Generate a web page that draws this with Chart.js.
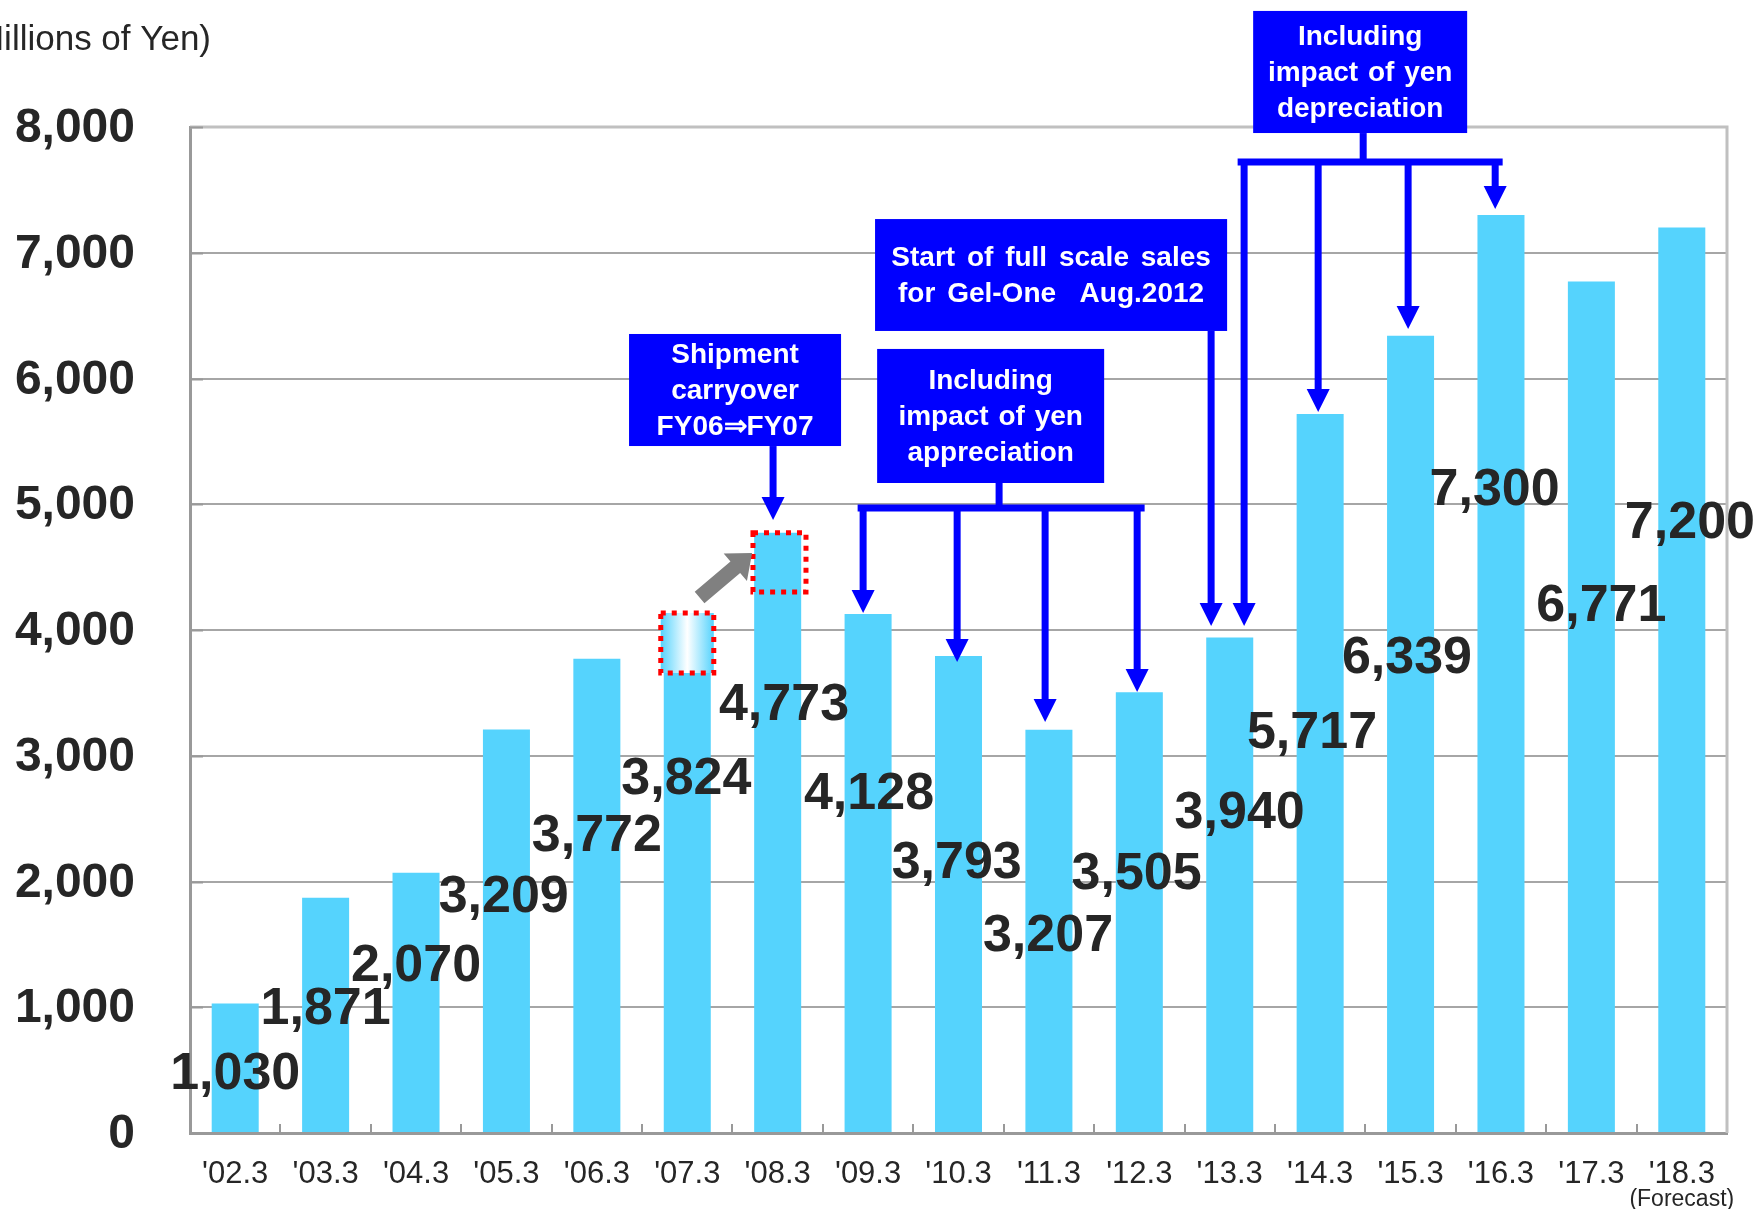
<!DOCTYPE html>
<html>
<head>
<meta charset="utf-8">
<script src="https://cdn.jsdelivr.net/npm/chart.js@4.4.1/dist/chart.umd.min.js"></script>
<style>
  html, body { margin: 0; padding: 0; background: #ffffff; }
  #wrap { position: relative; width: 1762px; height: 1209px; }
</style>
</head>
<body>
<div id="wrap"><canvas id="c" width="1762" height="1209"></canvas></div>
<script>
// ---------- data ----------
const categories = ["'02.3","'03.3","'04.3","'05.3","'06.3","'07.3","'08.3","'09.3","'10.3","'11.3","'12.3","'13.3","'14.3","'15.3","'16.3","'17.3","'18.3"];
const sales = [1030, 1871, 2070, 3209, 3772, 3824, 4773, 4128, 3793, 3207, 3505, 3940, 5717, 6339, 7300, 6771, 7200];
const yTicks = [0, 1000, 2000, 3000, 4000, 5000, 6000, 7000, 8000];
const yAxisTitle = "(Millions of Yen)";
const forecastNote = "(Forecast)";

// label anchor (value units) and horizontal shift (category units) for each value label
const labelAnchorValues = [493, 1010, 1352, 1900, 2390, 2839, 3431, 2720, 2170, 1595, 2090, 2570, 3205, 3805, 5141, 4219, 4875];
const labelShift = [0, 0, 0, -0.03, 0, -0.01, 0.07, 0.01, -0.02, -0.01, -0.03, 0.11, -0.09, -0.04, -0.07, 0.11, 0.09];

// shipment carryover boxes: [categoryIndex, lowValue, highValue]
const carryFrom = [5, 3658, 4135];
const carryTo = [6.02, 4303, 4773];

// annotation callouts (x in category units, y in value units)
const callouts = [
  { lines: ["Shipment", "carryover", "FY06\u21D2FY07"], x1: 4.356, x2: 6.701, yTop: 6354, yBot: 5463, ws: 0 },
  { lines: ["Start of full scale sales", "for Gel-One  Aug.2012"], x1: 7.077, x2: 10.971, yTop: 7268, yBot: 6378, ws: 4 },
  { lines: ["Including", "impact of yen", "appreciation"], x1: 7.100, x2: 9.611, yTop: 6235, yBot: 5169, ws: 2 },
  { lines: ["Including", "impact of yen", "depreciation"], x1: 11.259, x2: 13.626, yTop: 8923, yBot: 7952, ws: 2 }
];
// arrows straight down: [x, fromValue, tipValue]
const singleArrows = [
  [5.949, 5463, 4875],
  [10.794, 6378, 4032]
];
// bracket groups: stem from box to bracket, then arrows down
const brackets = [
  { stemX: 8.449, stemFrom: 5169, barY: 4970, xL: 6.923, xR: 10.020,
    arrows: [[6.945, 4135], [7.985, 3746], [8.958, 3268], [9.976, 3507]] },
  { stemX: 12.476, stemFrom: 7952, barY: 7722, xL: 11.126, xR: 13.980,
    arrows: [[11.159, 4032], [11.978, 5734], [12.973, 6394], [13.936, 7348]] }
];
// grey shift arrow: tail -> tip
const shiftArrow = { tail: [5.136, 4258], tip: [5.717, 4612] };

// ---------- styling ----------
const FONT = "'Liberation Sans', Arial, Helvetica, sans-serif";
const BAR = '#55d3fd';
const TEXT = '#262626';
const BLUE = '#0000ff';

function fmt(v) { return v.toLocaleString('en-US'); }

const overlay = {
  id: 'overlay',
  beforeDatasetsDraw(chart) {
    const ctx = chart.ctx, ca = chart.chartArea;
    ctx.save();
    ctx.strokeStyle = '#c0c0c0';
    ctx.lineWidth = 3;
    ctx.beginPath();
    ctx.moveTo(ca.left, ca.top); ctx.lineTo(ca.right, ca.top); ctx.lineTo(ca.right, ca.bottom);
    ctx.stroke();
    ctx.restore();
  },
  afterDatasetsDraw(chart) {
    const ctx = chart.ctx, ca = chart.chartArea;
    const xs = chart.scales.x, ys = chart.scales.y;
    const X = v => xs.getPixelForValue(v);
    const Y = v => ys.getPixelForValue(v);
    const meta = chart.getDatasetMeta(0);
    ctx.save();

    // inward tick marks
    ctx.strokeStyle = '#999999';
    ctx.lineWidth = 2;
    yTicks.forEach(t => {
      const y = Math.round(Y(t)) + 0.5;
      ctx.beginPath(); ctx.moveTo(ca.left, y); ctx.lineTo(ca.left + 13, y); ctx.stroke();
    });
    for (let i = 1; i < categories.length; i++) {
      const x = Math.round(X(i - 0.5));
      ctx.beginPath(); ctx.moveTo(x, ca.bottom); ctx.lineTo(x, ca.bottom - 9); ctx.stroke();
    }

    // carryover boxes
    const halfW = meta.data[0].width / 2 + 3;
    function carryBox(spec, gradient) {
      const cx = X(spec[0]);
      const l = cx - halfW, r = cx + halfW, t = Y(spec[2]), b = Y(spec[1]);
      if (gradient) {
        const g = ctx.createLinearGradient(l, 0, r, 0);
        g.addColorStop(0, BAR); g.addColorStop(0.5, '#ffffff'); g.addColorStop(1, BAR);
        ctx.fillStyle = g;
        ctx.fillRect(l, t, r - l, b - t);
      }
      ctx.strokeStyle = '#ff0000';
      ctx.lineWidth = 5;
      ctx.setLineDash([5, 6]);
      ctx.strokeRect(l, t, r - l, b - t);
      ctx.setLineDash([]);
    }
    carryBox(carryFrom, true);
    carryBox(carryTo, false);

    // grey shift arrow
    {
      const x0 = X(shiftArrow.tail[0]), y0 = Y(shiftArrow.tail[1]);
      const x1 = X(shiftArrow.tip[0]), y1 = Y(shiftArrow.tip[1]);
      const ang = Math.atan2(y1 - y0, x1 - x0);
      const headLen = 22, headW = 36, shaft = 15;
      const bx = x1 - headLen * Math.cos(ang), by = y1 - headLen * Math.sin(ang);
      const nx = -Math.sin(ang), ny = Math.cos(ang);
      ctx.fillStyle = '#808080';
      ctx.beginPath();
      ctx.moveTo(x0 + nx * shaft / 2, y0 + ny * shaft / 2);
      ctx.lineTo(bx + nx * shaft / 2, by + ny * shaft / 2);
      ctx.lineTo(bx + nx * headW / 2, by + ny * headW / 2);
      ctx.lineTo(x1, y1);
      ctx.lineTo(bx - nx * headW / 2, by - ny * headW / 2);
      ctx.lineTo(bx - nx * shaft / 2, by - ny * shaft / 2);
      ctx.lineTo(x0 - nx * shaft / 2, y0 - ny * shaft / 2);
      ctx.closePath();
      ctx.fill();
    }

    // blue arrows
    const LW = 7, HW = 23, HL = 23;
    function downArrow(xv, fromV, tipV) {
      const x = X(xv), y0 = Y(fromV), y1 = Y(tipV);
      ctx.strokeStyle = BLUE; ctx.fillStyle = BLUE;
      ctx.lineWidth = LW; ctx.lineCap = 'butt';
      ctx.beginPath(); ctx.moveTo(x, y0); ctx.lineTo(x, y1 - HL + 2); ctx.stroke();
      ctx.beginPath();
      ctx.moveTo(x - HW / 2, y1 - HL); ctx.lineTo(x + HW / 2, y1 - HL); ctx.lineTo(x, y1);
      ctx.closePath(); ctx.fill();
    }
    singleArrows.forEach(a => downArrow(a[0], a[1], a[2]));
    brackets.forEach(br => {
      ctx.strokeStyle = BLUE; ctx.lineWidth = LW;
      ctx.beginPath(); ctx.moveTo(X(br.stemX), Y(br.stemFrom)); ctx.lineTo(X(br.stemX), Y(br.barY)); ctx.stroke();
      ctx.lineCap = 'square';
      ctx.beginPath(); ctx.moveTo(X(br.xL), Y(br.barY)); ctx.lineTo(X(br.xR), Y(br.barY)); ctx.stroke();
      ctx.lineCap = 'butt';
      br.arrows.forEach(a => downArrow(a[0], br.barY, a[1]));
    });

    // callout boxes
    callouts.forEach(c => {
      const l = X(c.x1), r = X(c.x2), t = Y(c.yTop), b = Y(c.yBot);
      ctx.fillStyle = BLUE;
      ctx.fillRect(l, t, r - l, b - t);
      ctx.fillStyle = '#ffffff';
      ctx.font = 'bold 28px ' + FONT;
      ctx.wordSpacing = c.ws + 'px';
      ctx.textAlign = 'center';
      ctx.textBaseline = 'middle';
      const cx = (l + r) / 2, cy = (t + b) / 2, lh = 36;
      c.lines.forEach((s, i) => {
        ctx.fillText(s, cx, cy + (i - (c.lines.length - 1) / 2) * lh + 1);
      });
      ctx.wordSpacing = '0px';
    });

    // value labels
    ctx.fillStyle = TEXT;
    ctx.font = 'bold 52px ' + FONT;
    ctx.textAlign = 'center';
    ctx.textBaseline = 'middle';
    sales.forEach((v, i) => {
      ctx.fillText(fmt(v), X(i + labelShift[i]), Y(labelAnchorValues[i]) + 4);
    });

    // axis title and forecast note
    ctx.font = '35px ' + FONT;
    ctx.textAlign = 'right';
    ctx.fillText(yAxisTitle, 211, 40);
    ctx.font = '23px ' + FONT;
    ctx.textAlign = 'center';
    ctx.fillText(forecastNote, X(categories.length - 1), 1200);
    ctx.restore();
  }
};

new Chart(document.getElementById('c'), {
  type: 'bar',
  data: {
    labels: categories,
    datasets: [{
      data: sales,
      backgroundColor: BAR,
      borderWidth: 0,
      categoryPercentage: 1,
      barPercentage: 0.52
    }]
  },
  options: {
    responsive: false,
    animation: false,
    events: [],
    layout: { padding: { top: 127, right: 35, left: 0, bottom: 0 } },
    plugins: { legend: { display: false }, tooltip: { enabled: false } },
    scales: {
      x: {
        grid: { display: false, drawTicks: false },
        border: { display: true, color: '#999999', width: 3 },
        ticks: { color: TEXT, font: { family: FONT, size: 31 }, padding: 23, maxRotation: 0, autoSkip: false },
        afterFit(s) { s.height = 76; }
      },
      y: {
        min: 0, max: 8000,
        afterBuildTicks(s) { s.ticks = yTicks.map(v => ({ value: v })); },
        grid: { color: '#a6a6a6', lineWidth: 2, drawTicks: true, tickLength: 55, tickColor: 'rgba(0,0,0,0)' },
        border: { display: true, color: '#999999', width: 3 },
        ticks: { color: TEXT, font: { family: FONT, size: 48, weight: 'bold' }, padding: 0, labelOffset: 2,
                 callback: v => fmt(v) },
        afterFit(s) { s.width = 190; }
      }
    }
  },
  plugins: [overlay]
});
</script>
</body>
</html>
